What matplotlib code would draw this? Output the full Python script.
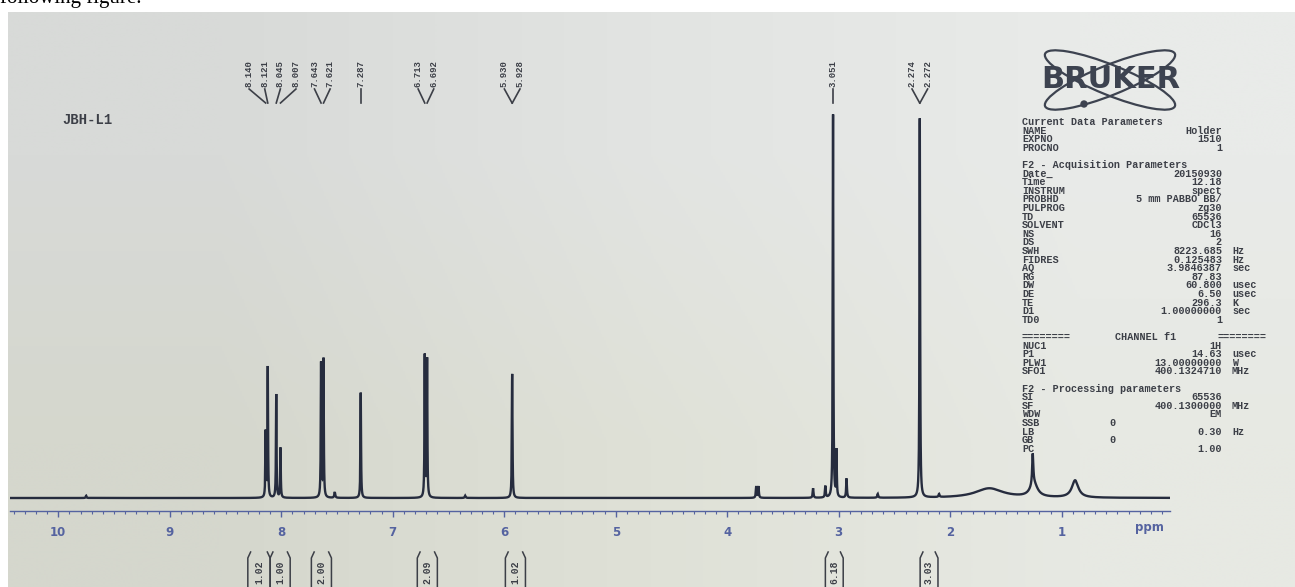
import numpy as np
import matplotlib
matplotlib.use("Agg")
import matplotlib.pyplot as plt
from matplotlib.ticker import MultipleLocator
from matplotlib.patches import Ellipse, Circle

W, H = 1295, 587

# peaks: shift (ppm), height (tallest = 100), half width (ppm)
peak_ppm = [9.75, 8.140, 8.121, 8.045, 8.007, 7.643, 7.621, 7.52, 7.287, 6.713, 6.692, 6.35,
            5.930, 5.928, 3.74, 3.72, 3.23, 3.12, 3.051, 3.02, 2.93, 2.65, 2.274, 2.272, 2.10,
            1.65, 1.26, 1.25, 0.88]
peak_height = [0.6, 17, 34, 27, 13, 35, 36, 1.5, 27.5, 37, 36, 0.6,
               18, 18, 3, 3, 2.5, 3, 100, 12, 5, 1, 55, 55, 0.8,
               2.5, 8, 3.5, 4.5]
peak_width = [0.004, 0.003, 0.003, 0.003, 0.003, 0.003, 0.003, 0.005, 0.003, 0.003, 0.003, 0.005,
              0.003, 0.003, 0.004, 0.004, 0.004, 0.004, 0.003, 0.003, 0.004, 0.005, 0.003, 0.003, 0.005,
              0.15, 0.006, 0.04, 0.035]

# picked peaks printed on top
label_ppm = [8.140, 8.121, 8.045, 8.007, 7.643, 7.621, 7.287, 6.713, 6.692,
             5.930, 5.928, 3.051, 2.274, 2.272]

# integral regions (from, to) and values
integ_from = [8.30, 8.10, 7.73, 6.78, 5.99, 3.12, 2.27]
integ_to = [8.10, 7.92, 7.55, 6.60, 5.81, 2.96, 2.11]
integ_val = [1.02, 1.00, 2.00, 2.09, 1.02, 6.18, 3.03]

params = [
    ("Current Data Parameters",),
    ("NAME", "Holder", ""),
    ("EXPNO", "1510", ""),
    ("PROCNO", "1", ""),
    (),
    ("F2 - Acquisition Parameters",),
    ("Date_", "20150930", ""),
    ("Time", "12.18", ""),
    ("INSTRUM", "spect", ""),
    ("PROBHD", "5 mm PABBO BB/", ""),
    ("PULPROG", "zg30", ""),
    ("TD", "65536", ""),
    ("SOLVENT", "CDCl3", ""),
    ("NS", "16", ""),
    ("DS", "2", ""),
    ("SWH", "8223.685", "Hz"),
    ("FIDRES", "0.125483", "Hz"),
    ("AQ", "3.9846387", "sec"),
    ("RG", "87.83", ""),
    ("DW", "60.800", "usec"),
    ("DE", "6.50", "usec"),
    ("TE", "296.3", "K"),
    ("D1", "1.00000000", "sec"),
    ("TD0", "1", ""),
    (),
    ("CHANNEL f1",),
    ("NUC1", "1H", ""),
    ("P1", "14.63", "usec"),
    ("PLW1", "13.00000000", "W"),
    ("SFO1", "400.1324710", "MHz"),
    (),
    ("F2 - Processing parameters",),
    ("SI", "65536", ""),
    ("SF", "400.1300000", "MHz"),
    ("WDW", "EM", ""),
    ("SSB", "0", ""),
    ("LB", "0.30", "Hz"),
    ("GB", "0", ""),
    ("PC", "1.00", ""),
]

spec_col = "#262c3e"
axis_col = "#5563a0"
txt_col = "#3c3f47"
mono = "Liberation Mono"


def spread(vals, d):
    # push labels apart so they don't overlap (like topspin does)
    pos = list(vals)
    for _ in range(1000):
        moved = False
        for i in range(len(pos) - 1):
            gap = pos[i] - pos[i + 1]
            if gap < d - 1e-9:
                s = (d - gap) / 2
                pos[i] += s
                pos[i + 1] -= s
                moved = True
        if not moved:
            break
    return pos


fig = plt.figure(figsize=(W / 100, H / 100), dpi=100)
fig.patch.set_facecolor("white")

# background / decoration layer in pixel units
bg = fig.add_axes([0, 0, 1, 1], zorder=0)
bg.set_xlim(0, W)
bg.set_ylim(H, 0)
bg.axis("off")
shade = np.array([[[216, 218, 216], [226, 228, 226], [233, 235, 233]],
                  [[213, 215, 205], [223, 225, 215], [231, 233, 227]]]) / 255.0
bg.imshow(shade, extent=(8, W, H, 12), aspect="auto", interpolation="bilinear", zorder=0)
# caption of the page the photo sits in, only its lower edge shows
bg.text(0, 3, "following figure.", fontsize=15, family="Liberation Serif", color="black",
        va="baseline", ha="left")

# spectrum axes
ax_top, ax_bot = 12, 511
ax = fig.add_axes([10 / W, (H - ax_bot) / H, 1160 / W, (ax_bot - ax_top) / H], zorder=1)
ax.patch.set_visible(False)
px_unit = 383 / 100.0
ax.set_ylim(-13 / px_unit, (ax_bot - ax_top - 13) / px_unit)
ax.set_xlim(10.433, 0.029)

x = np.arange(0.03, 10.43, 0.0005)
y = np.zeros_like(x)
for p, h, w in zip(peak_ppm, peak_height, peak_width):
    y += h * w ** 2 / ((x - p) ** 2 + w ** 2)
ax.plot(x, y, color=spec_col, lw=1.7, solid_joinstyle="miter")

for s in ["top", "left", "right"]:
    ax.spines[s].set_visible(False)
ax.spines["bottom"].set_color(axis_col)
ax.spines["bottom"].set_linewidth(1.0)
ax.set_yticks([])
ax.set_xticks(range(1, 11))
ax.xaxis.set_minor_locator(MultipleLocator(0.1))
ax.tick_params(axis="x", which="major", direction="out", length=4, width=1, color=axis_col,
               labelcolor=axis_col, labelsize=8.5, pad=7)
ax.tick_params(axis="x", which="minor", direction="out", length=2, width=0.8, color=axis_col)
plt.setp(ax.get_xticklabels(), fontweight="bold")

tr = ax.get_xaxis_transform()


def fy(p):
    return (ax_bot - p) / (ax_bot - ax_top)


# peak labels with connectors
lab_pos = spread(label_ppm, 0.14)
for pk, lp in zip(label_ppm, lab_pos):
    ax.text(lp, fy(87), "%.3f" % pk, rotation=90, ha="center", va="bottom", transform=tr,
            fontsize=6.5, family=mono, fontweight="bold", color=txt_col, clip_on=False)
    ax.plot([lp, pk], [fy(89), fy(103)], transform=tr, color=txt_col, lw=1.2, clip_on=False)

# integrals under the axis
for a, b, v in zip(integ_from, integ_to, integ_val):
    for xe, sgn in ((a, -1), (b, 1)):
        ax.plot([xe, xe, xe + sgn * 0.025], [fy(592), fy(558), fy(552)], transform=tr,
                color=txt_col, lw=1.1, clip_on=False)
    ax.text((a + b) / 2, fy(572), "%.2f" % v, rotation=90, ha="center", va="center",
            transform=tr, fontsize=7, family=mono, fontweight="bold", color=txt_col,
            clip_on=False)

bg.text(1149, 528, "ppm", ha="center", va="center", fontsize=8.5, fontweight="bold",
        color=axis_col)
bg.text(62, 120, "JBH-L1", ha="left", va="center", fontsize=10, family=mono,
        fontweight="bold", color=txt_col)

# bruker logo
bg.text(1111, 79, "BRUKER", ha="center", va="center", fontsize=22, fontweight="heavy",
        color="#3d4350")
for ang in (22, -22):
    bg.add_patch(Ellipse((1110, 80), 140, 30, angle=ang, fill=False, ec="#3d4350", lw=1.6))
bg.add_patch(Circle((1084, 104), 3, color="#3d4350"))

# acquisition parameters
x_key, x_val, x_unit, y0, dy = 1022, 1222, 1232, 122, 8.6
fs = 7.3
for i, row in enumerate(params):
    yy = y0 + i * dy
    if len(row) == 0:
        continue
    if len(row) == 1:
        if row[0].startswith("CHANNEL"):
            bg.text(x_key, yy, "========", ha="left", va="center", fontsize=fs, family=mono,
                    fontweight="bold", color=txt_col)
            bg.text(1146, yy, row[0], ha="center", va="center", fontsize=fs, family=mono,
                    fontweight="bold", color=txt_col)
            bg.text(1267, yy, "========", ha="right", va="center", fontsize=fs, family=mono,
                    fontweight="bold", color=txt_col)
        else:
            bg.text(x_key, yy, row[0], ha="left", va="center", fontsize=fs, family=mono,
                    fontweight="bold", color=txt_col)
        continue
    key, val, unit = row
    bg.text(x_key, yy, key, ha="left", va="center", fontsize=fs, family=mono,
            fontweight="bold", color=txt_col)
    if key in ("SSB", "GB"):
        bg.text(1112, yy, val, ha="center", va="center", fontsize=fs, family=mono,
                fontweight="bold", color=txt_col)
    else:
        bg.text(x_val, yy, val, ha="right", va="center", fontsize=fs, family=mono,
                fontweight="bold", color=txt_col)
    if unit:
        bg.text(x_unit, yy, unit, ha="left", va="center", fontsize=fs, family=mono,
                fontweight="bold", color=txt_col)

fig.savefig("out.png", dpi=100)
